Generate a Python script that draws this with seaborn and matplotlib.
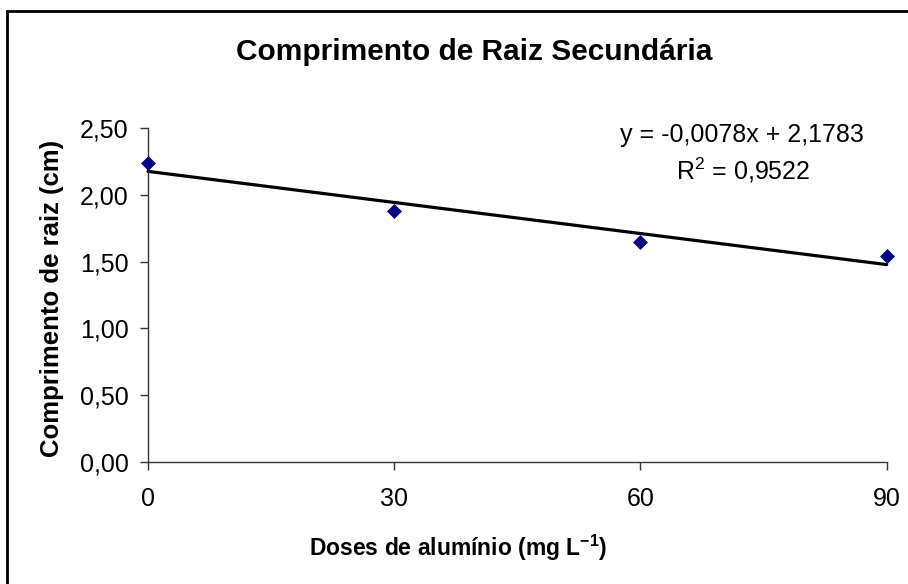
import matplotlib
matplotlib.use("Agg")
import matplotlib.pyplot as plt
import seaborn as sns
import pandas as pd
from matplotlib.patches import Rectangle
from matplotlib.ticker import FuncFormatter

# data
doses = [0, 30, 60, 90]
comprimento = [2.24, 1.88, 1.65, 1.54]
x_ticks = [0, 30, 60, 90]
y_ticks = [0.0, 0.5, 1.0, 1.5, 2.0, 2.5]
equacao = "y = -0,0078x + 2,1783"
r2_texto = "R$^2$ = 0,9522"

df = pd.DataFrame({"dose": doses, "comp": comprimento})

sns.set_style("white")
plt.rcParams['font.family'] = ['Liberation Sans', 'DejaVu Sans']
plt.rcParams['mathtext.default'] = 'regular'
plt.rcParams['text.color'] = 'black'

fig = plt.figure(figsize=(9.08, 5.84), dpi=100)
ax = fig.add_axes([0.1630, 0.2094, 0.8135, 0.5709])

sns.regplot(data=df, x="dose", y="comp", ax=ax, ci=None, marker="D",
            scatter_kws={"color": "#000080", "s": 58, "zorder": 3,
                         "linewidths": 0, "alpha": 1},
            line_kws={"color": "black", "linewidth": 2.3, "zorder": 2})

ax.set_xlim(0, 90)
ax.set_ylim(0, 2.5)
ax.set_xticks(x_ticks)
ax.set_yticks(y_ticks)
ax.yaxis.set_major_formatter(FuncFormatter(lambda v, p: f"{v:.2f}".replace(".", ",")))
ax.set_xlabel("")
ax.set_ylabel("")
ax.spines['top'].set_visible(False)
ax.spines['right'].set_visible(False)
for s in ['left', 'bottom']:
    ax.spines[s].set_color('#333333')
    ax.spines[s].set_linewidth(1)
ax.tick_params(axis='both', direction='out', length=6, width=1, color='#333333',
               labelsize=18, labelcolor='black')
ax.tick_params(axis='x', pad=12, bottom=True)
ax.tick_params(axis='y', pad=8, left=True)
for c in ax.collections:
    c.set_clip_on(False)
for l in ax.lines:
    l.set_clip_on(False)

fig.text(0.817, 1 - 135 / 584, equacao, ha='center', va='center', fontsize=18)
fig.text(0.818, 1 - 170 / 584, r2_texto, ha='center', va='center', fontsize=18)

fig.text(0.522, 1 - 52 / 584, "Comprimento de Raiz Secundária",
         ha='center', va='center', fontsize=21.5, fontweight='bold')
fig.text(0.505, 1 - 548 / 584, "Doses de alumínio (mg L$^{-1}$)",
         ha='center', va='center', fontsize=16.5, fontweight='bold')
fig.text(0.0573, 1 - 298 / 584, "Comprimento de raiz (cm)", rotation=90,
         ha='center', va='center', fontsize=18.5, fontweight='bold')

# outer chart border (cut off at right and bottom)
fig.patches.append(Rectangle((7 / 908, -0.2), 1.5, 0.2 + 1 - 11 / 584,
                             transform=fig.transFigure, fill=False,
                             edgecolor='black', linewidth=2))

fig.savefig("out.png", dpi=100)
